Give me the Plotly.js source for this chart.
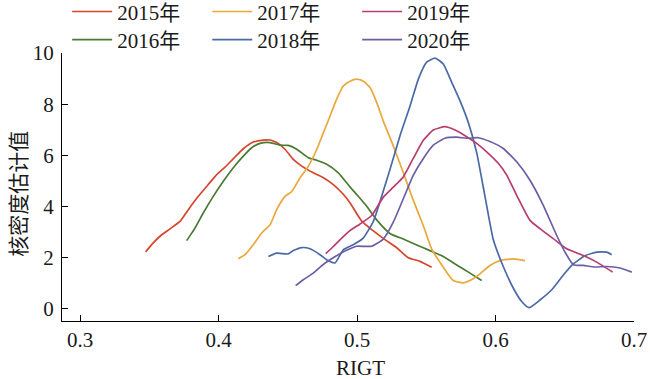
<!DOCTYPE html>
<html>
<head>
<meta charset="utf-8">
<script src="https://cdn.plot.ly/plotly-3.0.1.min.js"></script>
<style>html,body{margin:0;padding:0;background:#fff;}#chart{width:650px;height:379px;}</style>
</head>
<body>
<div id="chart"></div>
<script>
const seriesNames = ['2015年', '2016年', '2017年', '2018年', '2019年', '2020年'];
const seriesColors = ['#d6452c', '#4b7a34', '#e9a83b', '#4a6aa6', '#b83c70', '#6d5ea3'];

const x2015 = [0.3474,0.3529,0.3590,0.3650,0.3722,0.3782,0.3854,0.3926,0.3987,0.4047,0.4107,0.4179,0.4251,0.4323,0.4372,0.4420,0.4480,0.4540,0.4601,0.4684,0.4757,0.4829,0.4901,0.4949,0.5034,0.5118,0.5202,0.5287,0.5370,0.5455,0.5539];
const y2015 = [2.23,2.58,2.90,3.13,3.42,3.88,4.40,4.86,5.25,5.54,5.87,6.26,6.52,6.60,6.60,6.50,6.24,5.84,5.58,5.32,5.13,4.86,4.48,4.15,3.43,3.05,2.71,2.39,2.00,1.86,1.63];

const x2016 = [0.3770,0.3830,0.3890,0.3962,0.4035,0.4107,0.4179,0.4240,0.4300,0.4372,0.4444,0.4504,0.4565,0.4648,0.4709,0.4781,0.4865,0.4949,0.4998,0.5070,0.5142,0.5238,0.5334,0.5431,0.5527,0.5623,0.5720,0.5816,0.5900];
const y2016 = [2.67,3.16,3.75,4.40,4.99,5.52,5.97,6.30,6.47,6.50,6.40,6.39,6.24,5.91,5.81,5.65,5.32,4.77,4.47,4.01,3.48,2.95,2.73,2.50,2.28,2.05,1.72,1.40,1.11];

const x2017 = [0.4143,0.4191,0.4251,0.4312,0.4372,0.4420,0.4480,0.4529,0.4588,0.4648,0.4709,0.4757,0.4805,0.4853,0.4901,0.4949,0.4998,0.5046,0.5094,0.5142,0.5190,0.5262,0.5334,0.5406,0.5479,0.5539,0.5623,0.5695,0.5768,0.5816,0.5888,0.5960,0.6032,0.6129,0.6213];
const y2017 = [1.96,2.12,2.51,2.97,3.29,3.88,4.40,4.59,5.12,5.57,6.23,6.88,7.53,8.20,8.71,8.90,8.98,8.90,8.65,8.07,7.34,6.37,5.33,4.25,3.25,2.35,1.63,1.11,1.02,1.11,1.37,1.70,1.89,1.96,1.89];

const x2018 = [0.4360,0.4420,0.4504,0.4540,0.4601,0.4661,0.4733,0.4793,0.4841,0.4901,0.4973,0.5045,0.5118,0.5178,0.5238,0.5310,0.5383,0.5443,0.5503,0.5563,0.5623,0.5684,0.5744,0.5804,0.5864,0.5924,0.5984,0.6056,0.6129,0.6189,0.6242,0.6321,0.6406,0.6490,0.6562,0.6646,0.6731,0.6803,0.6839];
const y2018 = [2.05,2.18,2.15,2.28,2.40,2.35,2.12,1.88,1.80,2.31,2.51,2.77,3.42,4.40,5.45,6.76,7.93,8.98,9.64,9.80,9.57,8.85,8.13,7.28,6.11,4.40,2.71,1.66,0.81,0.29,0.05,0.35,0.75,1.33,1.76,2.08,2.22,2.22,2.12];

const x2019 = [0.4774,0.4829,0.4901,0.4949,0.5022,0.5106,0.5190,0.5262,0.5334,0.5406,0.5479,0.5551,0.5635,0.5708,0.5792,0.5864,0.5936,0.6020,0.6081,0.6153,0.6249,0.6321,0.6417,0.6514,0.6634,0.6731,0.6846];
const y2019 = [2.16,2.44,2.83,3.06,3.32,3.65,4.37,4.76,5.16,5.88,6.59,6.99,7.12,6.99,6.73,6.47,6.14,5.69,5.23,4.44,3.46,3.14,2.75,2.35,2.09,1.83,1.44];

const x2020 = [0.4557,0.4612,0.4684,0.4745,0.4805,0.4877,0.4949,0.4998,0.5106,0.5190,0.5262,0.5334,0.5406,0.5479,0.5551,0.5635,0.5720,0.5792,0.5876,0.5960,0.6056,0.6153,0.6249,0.6345,0.6442,0.6502,0.6562,0.6634,0.6719,0.6803,0.6899,0.6984];
const y2020 = [0.91,1.14,1.40,1.69,1.92,2.16,2.35,2.45,2.45,2.73,3.39,4.30,5.22,5.88,6.40,6.67,6.71,6.67,6.69,6.54,6.27,5.75,5.03,4.05,2.87,2.22,1.73,1.70,1.64,1.66,1.60,1.44];

const xTicks = [0.3, 0.4, 0.5, 0.6, 0.7];
const xTickLabels = ['0.3', '0.4', '0.5', '0.6', '0.7'];
const yTicks = [0, 2, 4, 6, 8, 10];
const yTickLabels = ['0', '2', '4', '6', '8', '10'];
const xTitle = 'RIGT';
const yTitle = '核密度估计值';

const xs = [x2015, x2016, x2017, x2018, x2019, x2020];
const ys = [y2015, y2016, y2017, y2018, y2019, y2020];
const legendIds = ['legend', 'legend4', 'legend2', 'legend5', 'legend3', 'legend6'];

const FONT = 'Liberation Serif, Times New Roman, Noto Sans CJK SC, serif';

const traces = seriesNames.map((name, i) => ({
  type: 'scatter', mode: 'lines', name: name,
  x: xs[i], y: ys[i],
  line: {color: seriesColors[i], width: 1.7, shape: 'spline', smoothing: 0.5},
  legend: legendIds[i],
  hoverinfo: 'skip'
}));

// legend placement (paper coords)
const colX = [0.009, 0.254, 0.516];
const rowY = [1.1536, 1.0487];
function legendAt(c, r) {
  return {x: colX[c], y: rowY[r], xanchor: 'left', yanchor: 'middle', orientation: 'v',
          bgcolor: 'rgba(0,0,0,0)', borderwidth: 0, itemwidth: 40,
          font: {family: FONT, size: 21, color: '#1a1a1a'}};
}

const layout = {
  width: 650, height: 379,
  margin: {l: 62, r: 16, t: 53, b: 58, autoexpand: false},
  paper_bgcolor: '#ffffff', plot_bgcolor: '#ffffff',
  showlegend: true,
  legend: legendAt(0, 0), legend4: legendAt(0, 1),
  legend2: legendAt(1, 0), legend5: legendAt(1, 1),
  legend3: legendAt(2, 0), legend6: legendAt(2, 1),
  xaxis: {
    range: [0.287, 0.7], tickmode: 'array', tickvals: xTicks, ticktext: xTickLabels,
    ticks: 'inside', ticklen: 6, tickwidth: 1, tickcolor: '#000',
    showline: true, linecolor: '#000', linewidth: 1, showgrid: false, zeroline: false,
    tickfont: {family: FONT, size: 21, color: '#1a1a1a'}
  },
  yaxis: {
    range: [-0.47, 10], tickmode: 'array', tickvals: yTicks, ticktext: yTickLabels,
    ticks: 'inside', ticklen: 6, tickwidth: 1, tickcolor: '#000',
    showline: true, linecolor: '#000', linewidth: 1, showgrid: false, zeroline: false,
    ticklabelstandoff: 3,
    tickfont: {family: FONT, size: 21, color: '#1a1a1a'}
  },
  annotations: [
    {text: xTitle, xref: 'paper', yref: 'paper', x: 0.521, y: -0.176, xanchor: 'center', yanchor: 'middle',
     showarrow: false, font: {family: FONT, size: 21, color: '#1a1a1a'}},
    {text: yTitle, xref: 'paper', yref: 'paper', x: -0.08, y: 0.4757, xanchor: 'center', yanchor: 'middle',
     textangle: -90, showarrow: false, font: {family: 'Noto Sans CJK SC, sans-serif', size: 21, color: '#1a1a1a'}}
  ]
};

Plotly.newPlot('chart', traces, layout, {staticPlot: true, displayModeBar: false});
</script>
</body>
</html>
